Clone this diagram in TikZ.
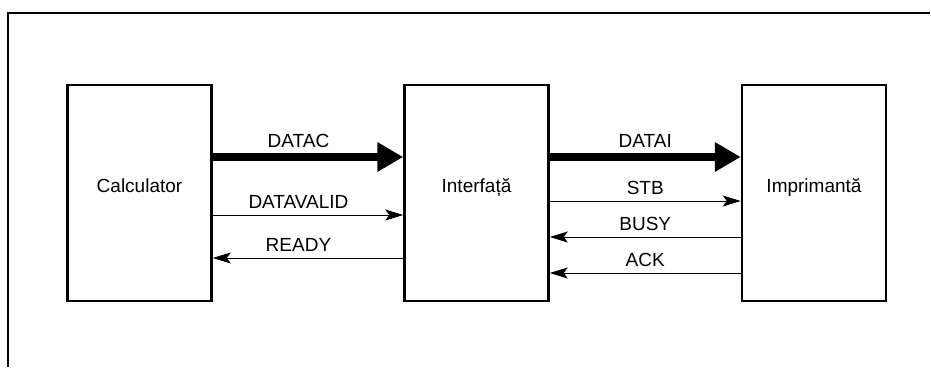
\documentclass[tikz,border=0pt]{standalone}
\usepackage{fontspec}
\setmainfont{Liberation Sans}
\usetikzlibrary{arrows.meta, positioning}

\begin{document}
\begin{tikzpicture}[
    x=1pt, y=-1pt,
    block/.style={rectangle, draw=black, line width=2.5pt, minimum width=144pt, minimum height=216pt,
                  inner sep=0pt, text height=14pt, text depth=16pt, font=\fontsize{19}{22}\selectfont},
    bus/.style={-{Triangle[length=26pt, width=28pt]}, line width=7.5pt},
    wire/.style={-{Stealth[length=18pt, width=11pt, inset=4pt]}, line width=1pt},
    sig/.style={font=\fontsize{19}{22}\selectfont, above=6pt, inner sep=0pt}
]
\useasboundingbox (0,0) rectangle (931,367);
\draw[line width=2pt] (8,367) -- (8,13) -- (930,13);

\node[block] (calc)  at (139.5,193) {Calculator};
\node[block] (iface) at (476.5,193) {Interfață};
\node[block] (print) at (814,193)   {Imprimantă};

% calculator <-> interfata
\draw[bus]  ([yshift=36pt]calc.east)   -- node[sig, pos=0.45] {DATAC}     ([yshift=36pt]iface.west);
\draw[wire] ([yshift=-22pt]calc.east)  -- node[sig, pos=0.45] {DATAVALID} ([yshift=-22pt]iface.west);
\draw[wire] ([yshift=-65pt]iface.west) -- node[sig, pos=0.55] {READY}     ([yshift=-65pt]calc.east);

% interfata <-> imprimanta
\draw[bus]  ([yshift=36pt]iface.east)  -- node[sig] {DATAI} ([yshift=36pt]print.west);
\draw[wire] ([yshift=-8pt]iface.east)  -- node[sig] {STB}   ([yshift=-8pt]print.west);
\draw[wire] ([yshift=-44pt]print.west) -- node[sig] {BUSY}  ([yshift=-44pt]iface.east);
\draw[wire] ([yshift=-80pt]print.west) -- node[sig] {ACK}   ([yshift=-80pt]iface.east);
\end{tikzpicture}
\end{document}
